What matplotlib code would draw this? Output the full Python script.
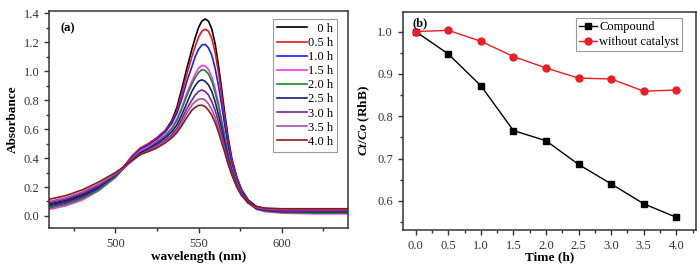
import matplotlib
matplotlib.use("Agg")
import matplotlib.pyplot as plt
from matplotlib.ticker import MultipleLocator

plt.rcParams['font.family'] = ['Liberation Serif', 'DejaVu Serif']
plt.rcParams['mathtext.fontset'] = 'custom'
plt.rcParams['mathtext.rm'] = 'Liberation Serif:bold'
plt.rcParams['mathtext.it'] = 'Liberation Serif:italic:bold'
plt.rcParams['mathtext.bf'] = 'Liberation Serif:bold'

# ---- panel (a): UV-vis spectra ----
wavelength = [460, 470, 480, 490, 500, 505, 510, 515, 520, 525, 530,
              534, 537, 540, 543, 546,
              548, 550, 552, 554, 556, 558, 560,
              562, 564, 566, 568, 570,
              573, 576, 580, 585, 590,
              600, 620, 640]

abs_0h = [0.085, 0.11, 0.15, 0.21, 0.285, 0.34, 0.41, 0.465, 0.50, 0.54, 0.59,
          0.66, 0.75, 0.88, 1.02, 1.15,
          1.23, 1.30, 1.345, 1.36, 1.345, 1.29, 1.19,
          1.04, 0.87, 0.69, 0.53, 0.40,
          0.27, 0.18, 0.11, 0.065, 0.05,
          0.045, 0.04, 0.04]
abs_05h = [0.07, 0.095, 0.135, 0.20, 0.28, 0.34, 0.415, 0.47, 0.50, 0.54, 0.59,
           0.65, 0.73, 0.85, 0.98, 1.10,
           1.17, 1.235, 1.275, 1.29, 1.275, 1.225, 1.13,
           0.99, 0.83, 0.66, 0.51, 0.39,
           0.265, 0.175, 0.105, 0.06, 0.045,
           0.04, 0.035, 0.035]
abs_10h = [0.06, 0.085, 0.125, 0.19, 0.275, 0.335, 0.405, 0.46, 0.49, 0.53, 0.58,
           0.64, 0.71, 0.81, 0.93, 1.03,
           1.10, 1.15, 1.18, 1.185, 1.16, 1.11, 1.02,
           0.90, 0.76, 0.61, 0.47, 0.36,
           0.25, 0.165, 0.10, 0.055, 0.04,
           0.03, 0.025, 0.025]
abs_15h = [0.045, 0.07, 0.11, 0.175, 0.265, 0.33, 0.395, 0.45, 0.48, 0.52, 0.56,
           0.61, 0.67, 0.75, 0.85, 0.93,
           0.98, 1.02, 1.04, 1.035, 1.01, 0.96, 0.88,
           0.78, 0.66, 0.54, 0.42, 0.33,
           0.23, 0.15, 0.09, 0.045, 0.03,
           0.02, 0.015, 0.015]
abs_20h = [0.055, 0.08, 0.12, 0.18, 0.27, 0.33, 0.39, 0.44, 0.47, 0.51, 0.55,
           0.60, 0.66, 0.74, 0.83, 0.91,
           0.955, 0.99, 1.01, 1.005, 0.98, 0.93, 0.855,
           0.76, 0.645, 0.53, 0.415, 0.325,
           0.225, 0.15, 0.09, 0.05, 0.035,
           0.025, 0.02, 0.02]
abs_25h = [0.075, 0.10, 0.14, 0.20, 0.28, 0.33, 0.385, 0.435, 0.465, 0.50, 0.54,
           0.58, 0.63, 0.70, 0.78, 0.86,
           0.90, 0.93, 0.94, 0.93, 0.905, 0.86, 0.79,
           0.70, 0.60, 0.495, 0.395, 0.31,
           0.215, 0.145, 0.09, 0.05, 0.04,
           0.03, 0.03, 0.03]
abs_30h = [0.09, 0.115, 0.155, 0.21, 0.285, 0.33, 0.38, 0.425, 0.455, 0.49, 0.525,
           0.56, 0.605, 0.67, 0.74, 0.80,
           0.835, 0.86, 0.87, 0.86, 0.835, 0.79, 0.73,
           0.65, 0.56, 0.465, 0.375, 0.30,
           0.21, 0.145, 0.09, 0.055, 0.045,
           0.035, 0.035, 0.035]
abs_35h = [0.10, 0.125, 0.165, 0.22, 0.29, 0.335, 0.38, 0.425, 0.45, 0.48, 0.515,
           0.55, 0.59, 0.645, 0.71, 0.765,
           0.79, 0.805, 0.81, 0.80, 0.775, 0.735, 0.68,
           0.61, 0.53, 0.445, 0.36, 0.29,
           0.205, 0.14, 0.09, 0.06, 0.05,
           0.045, 0.045, 0.045]
abs_40h = [0.115, 0.14, 0.18, 0.235, 0.30, 0.34, 0.385, 0.425, 0.445, 0.47, 0.505,
           0.54, 0.575, 0.625, 0.68, 0.73,
           0.75, 0.763, 0.765, 0.755, 0.73, 0.695, 0.645,
           0.58, 0.505, 0.43, 0.35, 0.285,
           0.20, 0.14, 0.09, 0.065, 0.055,
           0.05, 0.05, 0.05]

spectra = [abs_0h, abs_05h, abs_10h, abs_15h, abs_20h, abs_25h, abs_30h, abs_35h, abs_40h]
spectra_labels = ['   0 h', '0.5 h', '1.0 h', '1.5 h', '2.0 h', '2.5 h', '3.0 h', '3.5 h', '4.0 h']
spectra_colours = ['#000000', '#e8161b', '#1a1aff', '#ff33ff', '#1f8a1f',
                   '#1a1a80', '#802090', '#a050a8', '#8b1a1a']

# ---- panel (b): Ct/Co vs time ----
time_h = [0.0, 0.5, 1.0, 1.5, 2.0, 2.5, 3.0, 3.5, 4.0]
ct_compound = [1.000, 0.947, 0.872, 0.766, 0.742, 0.686, 0.640, 0.593, 0.561]
ct_no_catalyst = [1.000, 1.003, 0.977, 0.941, 0.914, 0.890, 0.888, 0.859, 0.862]

fig = plt.figure(figsize=(6.97, 2.71), dpi=100)
ax1 = fig.add_axes([0.0703, 0.1576, 0.429, 0.8018])
ax2 = fig.add_axes([0.5778, 0.1513, 0.4205, 0.8055])

for ax in (ax1, ax2):
    for s in ax.spines.values():
        s.set_linewidth(1.1)
        s.set_color('#333333')
    ax.tick_params(which='both', direction='out', top=False, right=False,
                   labelsize=9, colors='#333333', labelcolor='#333333')
    ax.tick_params(which='major', length=3.5, width=1)
    ax.tick_params(which='minor', length=2.2, width=1)

# panel (a)
for y, lab, col in zip(spectra, spectra_labels, spectra_colours):
    ax1.plot(wavelength, y, color=col, lw=1.2, label=lab)
ax1.set_xlim(460, 640)
ax1.set_ylim(-0.085, 1.415)
ax1.xaxis.set_major_locator(MultipleLocator(50))
ax1.xaxis.set_minor_locator(MultipleLocator(25))
ax1.yaxis.set_major_locator(MultipleLocator(0.2))
ax1.yaxis.set_minor_locator(MultipleLocator(0.1))
ax1.set_xlabel('wavelength (nm)', fontsize=9.5, fontweight='bold', labelpad=1)
ax1.set_ylabel('Absorbance', fontsize=9.5, fontweight='bold', labelpad=3)
ax1.text(0.04, 0.95, '(a)', transform=ax1.transAxes, fontsize=9, fontweight='bold',
         va='top', ha='left')
leg1 = ax1.legend(loc='upper right', bbox_to_anchor=(0.963, 0.963), borderaxespad=0,
                  fontsize=9, handlelength=2.4, handletextpad=0.1, labelspacing=0.17,
                  borderpad=0.3, fancybox=False, edgecolor='#999999', framealpha=1)
leg1.get_frame().set_linewidth(0.8)

# panel (b)
ax2.plot(time_h, ct_compound, color='black', lw=1.0, marker='s', ms=4.5,
         label='Compound')
ax2.plot(time_h, ct_no_catalyst, color='#ee1c24', lw=1.0, marker='o', ms=5,
         label='without catalyst')
ax2.set_xlim(-0.2, 4.3)
ax2.set_ylim(0.531, 1.047)
ax2.xaxis.set_major_locator(MultipleLocator(0.5))
ax2.xaxis.set_minor_locator(MultipleLocator(0.25))
ax2.yaxis.set_major_locator(MultipleLocator(0.1))
ax2.yaxis.set_minor_locator(MultipleLocator(0.05))
ax2.xaxis.set_major_formatter(plt.FormatStrFormatter('%.1f'))
ax2.yaxis.set_major_formatter(plt.FormatStrFormatter('%.1f'))
ax2.set_xlabel('Time (h)', fontsize=9.5, fontweight='bold', labelpad=0)
ax2.set_ylabel(r'$\mathit{Ct/Co}$ (RhB)', fontsize=9.5, fontweight='bold', labelpad=4)
ax2.text(0.035, 0.975, '(b)', transform=ax2.transAxes, fontsize=9, fontweight='bold',
         va='top', ha='left')
leg2 = ax2.legend(loc='upper right', bbox_to_anchor=(0.954, 0.97), borderaxespad=0,
                  fontsize=9, handlelength=1.4, handletextpad=0.2, labelspacing=0.2,
                  borderpad=0.25, fancybox=False, edgecolor='#999999', framealpha=1)
leg2.get_frame().set_linewidth(0.8)

fig.savefig('out.png', dpi=100)
